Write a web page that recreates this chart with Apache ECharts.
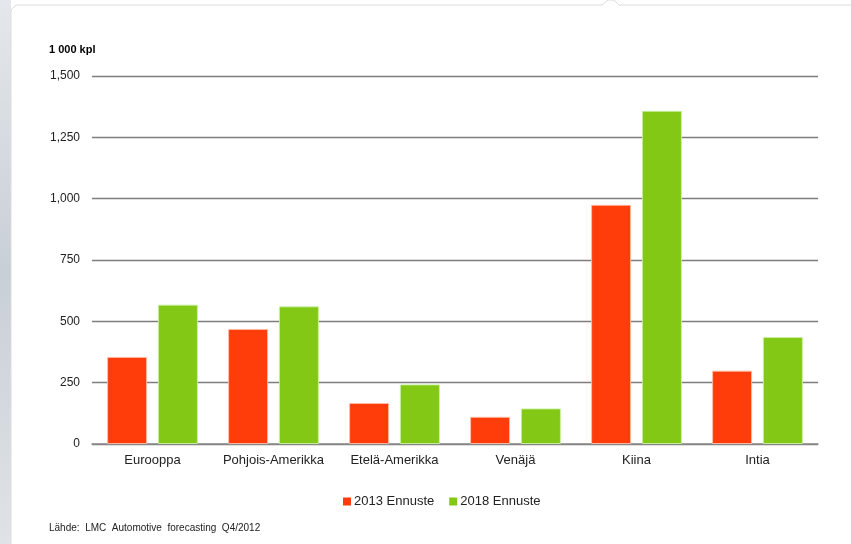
<!DOCTYPE html>
<html><head><meta charset="utf-8">
<script src="https://cdn.jsdelivr.net/npm/echarts@6/dist/echarts.min.js"></script>
<style>html,body{margin:0;padding:0;background:#fff}#c{width:851px;height:544px}</style>
</head><body><div id="c"></div>
<script>
const categories = ['Eurooppa', 'Pohjois-Amerikka', 'Etelä-Amerikka', 'Venäjä', 'Kiina', 'Intia'];
const series2013 = [355, 469, 167, 111, 975, 299];
const series2018 = [568, 561, 243, 145, 1358, 436];
const seriesNames = ['2013 Ennuste', '2018 Ennuste'];
const yTicks = [0, 250, 500, 750, 1000, 1250, 1500];

const chart = echarts.init(document.getElementById('c'), null, {renderer: 'canvas'});
const font = 'Liberation Sans, Arial, sans-serif';
chart.setOption({
  animation: false,
  backgroundColor: '#ffffff',
  textStyle: {fontFamily: font},
  graphic: [
    {type: 'rect', left: 0, top: 0, shape: {width: 11, height: 544}, z: -10,
      style: {fill: new echarts.graphic.LinearGradient(0, 0, 1, 1, [
        {offset: 0, color: '#e4e8ec'}, {offset: 0.5, color: '#c9cfd6'}, {offset: 1, color: '#dfe3e7'}])}},
    {type: 'polyline', z: -9, shape: {points: [[11, 544], [11, 10], [16, 5], [602, 5], [608, 0], [614, 0], [619, 5], [851, 5]]},
      style: {stroke: '#dcdcdc', lineWidth: 1, fill: null}},
    {type: 'text', left: 49, top: 44, style: {text: '1 000 kpl', font: 'bold 11px ' + font, fill: '#000'}},
    {type: 'text', left: 49, top: 523, style: {text: 'Lähde:  LMC  Automotive  forecasting  Q4/2012', font: '10px ' + font, fill: '#222'}}
  ],
  legend: {
    data: seriesNames, left: 338, top: 490, itemWidth: 8, itemHeight: 8, itemGap: 15,
    icon: 'rect', itemStyle: {borderWidth: 0},
    textStyle: {fontSize: 13, color: '#222', fontFamily: font, padding: [0, 0, 0, -2]}
  },
  grid: {left: 92, right: 33, top: 76, bottom: 100, containLabel: false},
  xAxis: {
    type: 'category', data: categories,
    axisLine: {lineStyle: {color: '#8a8a8a', width: 1.5}},
    axisTick: {show: false},
    axisLabel: {fontSize: 13, color: '#222', margin: 10, interval: 0, fontFamily: font}
  },
  yAxis: {
    type: 'value', min: yTicks[0], max: yTicks[yTicks.length - 1], interval: 250,
    axisLine: {show: false}, axisTick: {show: false},
    axisLabel: {fontSize: 12, color: '#222', margin: 12, fontFamily: font,
      formatter: v => v.toLocaleString('en-US')},
    splitLine: {lineStyle: {color: '#7d7d7d', width: 1.3}}
  },
  series: [
    {name: seriesNames[0], type: 'bar', data: series2013, barWidth: 40, barGap: '27%',
      itemStyle: {color: '#ff3d0a', borderColor: 'rgba(255,190,170,0.9)', borderWidth: 1}},
    {name: seriesNames[1], type: 'bar', data: series2018, barWidth: 40,
      itemStyle: {color: '#84c816', borderColor: 'rgba(200,240,160,0.9)', borderWidth: 1}}
  ]
});
</script></body></html>
